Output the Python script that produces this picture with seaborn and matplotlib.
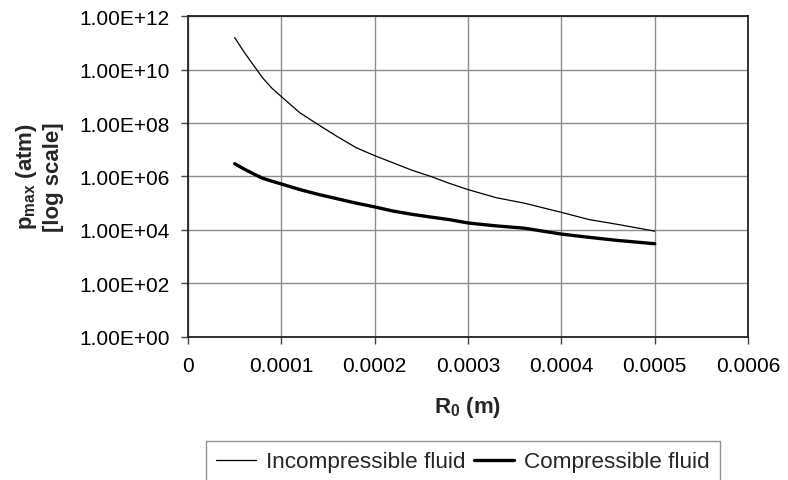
import numpy as np
import pandas as pd
import matplotlib
matplotlib.use("Agg")
import matplotlib.pyplot as plt
from matplotlib.ticker import FixedLocator, FixedFormatter, NullLocator
import seaborn as sns

# Данные
r0 = [0.00005, 0.00006, 0.00007, 0.00008, 0.00009, 0.0001, 0.00012, 0.00014,
      0.00016, 0.00018, 0.0002, 0.00022, 0.00024, 0.00026, 0.00028, 0.0003,
      0.00033, 0.00036, 0.0004, 0.00043, 0.00046, 0.0005]
p_incompressible = [1.6e11, 4.6e10, 1.5e10, 4.9e9, 2.0e9, 9.8e8, 2.4e8, 8.5e7,
                    3.1e7, 1.2e7, 6.0e6, 3.2e6, 1.7e6, 1.0e6, 5.5e5, 3.2e5,
                    1.6e5, 1.0e5, 4.5e4, 2.4e4, 1.6e4, 8.9e3]
p_compressible = [3.0e6, 1.9e6, 1.26e6, 8.5e5, 6.6e5, 5.2e5, 3.2e5, 2.1e5,
                  1.45e5, 1.0e5, 7.2e4, 5.0e4, 3.8e4, 3.0e4, 2.4e4, 1.8e4,
                  1.4e4, 1.15e4, 6.9e3, 5.2e3, 4.0e3, 3.0e3]

x_ticks = [0, 0.0001, 0.0002, 0.0003, 0.0004, 0.0005, 0.0006]
x_tick_labels = ["0", "0.0001", "0.0002", "0.0003", "0.0004", "0.0005", "0.0006"]
y_ticks = [1e0, 1e2, 1e4, 1e6, 1e8, 1e10, 1e12]
y_tick_labels = ["1.00E+00", "1.00E+02", "1.00E+04", "1.00E+06",
                 "1.00E+08", "1.00E+10", "1.00E+12"]

sns.set_style("white")
plt.rcParams["font.family"] = ["Liberation Sans", "DejaVu Sans"]
plt.rcParams["mathtext.fontset"] = "custom"
plt.rcParams["mathtext.rm"] = "Liberation Sans"
plt.rcParams["mathtext.bf"] = "Liberation Sans:bold"

df = pd.DataFrame({"R0": r0, "inc": p_incompressible, "comp": p_compressible})

fig = plt.figure(figsize=(7.88, 4.81), dpi=100)
ax = fig.add_axes([0.2386, 0.2983, 0.7107, 0.6657])

sns.lineplot(data=df, x="R0", y="inc", ax=ax, color="black", lw=0.9,
             label="Incompressible fluid", legend=False)
sns.lineplot(data=df, x="R0", y="comp", ax=ax, color="black", lw=2.4,
             label="Compressible fluid", legend=False)

ax.set_yscale("log")
ax.set_xlim(0, 0.0006)
ax.set_ylim(1e0, 1e12)
ax.xaxis.set_major_locator(FixedLocator(x_ticks))
ax.xaxis.set_major_formatter(FixedFormatter(x_tick_labels))
ax.yaxis.set_major_locator(FixedLocator(y_ticks))
ax.yaxis.set_major_formatter(FixedFormatter(y_tick_labels))
ax.yaxis.set_minor_locator(NullLocator())

ax.grid(True, color="#8c8c8c", lw=1.0)
for s in ax.spines.values():
    s.set_color("#222222")
    s.set_linewidth(1.3)
ax.tick_params(axis="both", direction="out", length=5, width=1, color="#444444",
               labelsize=15, colors="black")
ax.tick_params(axis="y", pad=8, left=True)
ax.tick_params(axis="x", pad=9, bottom=True)

ax.set_xlabel(r"R$_\mathbf{0}$ (m)", fontsize=16, fontweight="bold", labelpad=14)
ax.set_ylabel("")
fig.text(0.0495, 0.632, "p$_\\mathbf{max}$ (atm)\n[log scale]", rotation=90,
         ha="center", va="center", fontsize=16, fontweight="bold",
         linespacing=1.3, multialignment="center")

# легенда внизу, рамка уходит за нижний край рисунка
handles, labels = ax.get_legend_handles_labels()
leg = fig.legend(handles, labels, loc="upper left", ncol=2,
                 bbox_to_anchor=(205.7 / 788, 1 - 442.3 / 481),
                 bbox_transform=fig.transFigure, fontsize=16.2, frameon=True,
                 fancybox=False, edgecolor="#777777", handlelength=1.8,
                 handletextpad=0.45, columnspacing=0.35, borderpad=0.45,
                 borderaxespad=0)
leg.get_frame().set_linewidth(1.0)

fig.savefig("out.png", dpi=100)
